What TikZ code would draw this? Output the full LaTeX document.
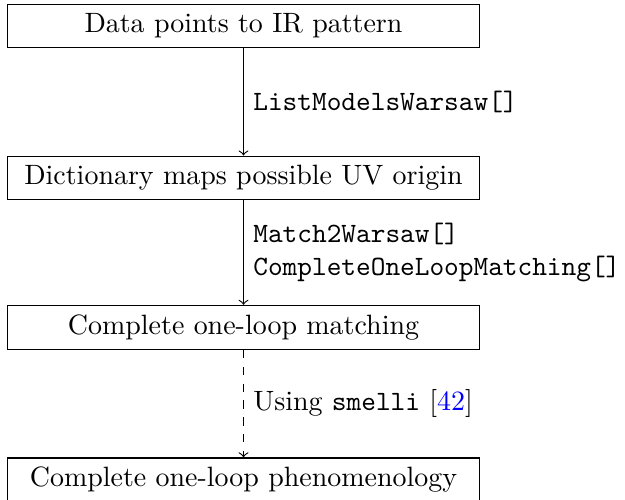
\documentclass[tikz,border=0pt]{standalone}
\usetikzlibrary{arrows}
\begin{document}
\begin{tikzpicture}[x=0.3576pt,y=-0.3576pt,
  box/.style={draw, minimum width=169pt, inner sep=0.333em},
  lab/.style={anchor=west, align=left},
  >=to]
\useasboundingbox (0,0) rectangle (625,500);
\node[box] (a) at (243.5,26) {Data points to IR pattern};
\node[box] (b) at (243.5,178) {Dictionary maps possible UV origin};
\node[box] (c) at (243.5,327.5) {Complete one-loop matching};
\node[box] (d) at (243.5,480) {Complete one-loop phenomenology};
\draw[->] (a) -- (b) node[midway, lab] {\texttt{ListModelsWarsaw[]}};
\draw[->] (b) -- (c) node[midway, lab] {\texttt{Match2Warsaw[]}\\\texttt{CompleteOneLoopMatching[]}};
\draw[->, dashed] (c) -- (d) node[midway, lab] {Using \texttt{smelli} [\textcolor{blue}{42}]};
\end{tikzpicture}
\end{document}
